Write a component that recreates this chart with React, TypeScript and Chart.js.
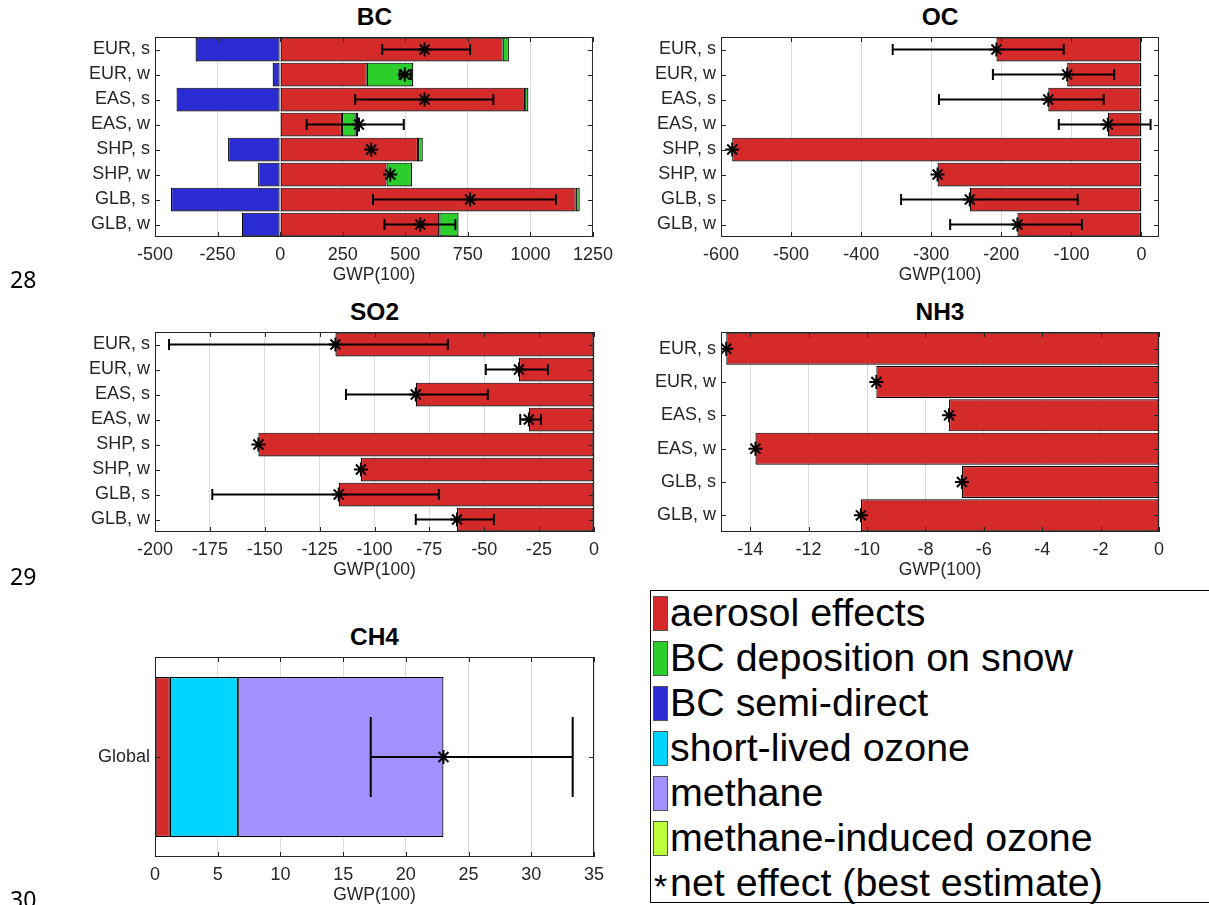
import React, { useEffect, useRef } from 'react';
import { Chart, registerables } from 'chart.js';
Chart.register(...registerables);

// ---------- data ----------
const regionLabels = ['EUR, s', 'EUR, w', 'EAS, s', 'EAS, w', 'SHP, s', 'SHP, w', 'GLB, s', 'GLB, w'];
const nh3Labels = ['EUR, s', 'EUR, w', 'EAS, s', 'EAS, w', 'GLB, s', 'GLB, w'];
const ch4Labels = ['Global'];

const bcTicks = [-500, -250, 0, 250, 500, 750, 1000, 1250];
const ocTicks = [-600, -500, -400, -300, -200, -100, 0];
const so2Ticks = [-200, -175, -150, -125, -100, -75, -50, -25, 0];
const nh3Ticks = [-14, -12, -10, -8, -6, -4, -2, 0];
const ch4Ticks = [0, 5, 10, 15, 20, 25, 30, 35];

const bcAerosol = [889, 346, 979, 247, 551, 425, 1181, 636];
const bcSnow = [25, 186, 13, 55, 19, 102, 16, 77];
const bcSemiDirect = [-338, -30, -414, 10, -208, -88, -436, -153];
const bcNet = [577, 498, 577, 315, 364, 440, 759, 560];
const bcErrLow = [408, 478, 300, 106, null, null, 371, 417];
const bcErrHigh = [759, 522, 852, 494, null, null, 1102, 700];

const ocAerosol = [-207, -106, -133, -48, -584, -291, -245, -177];
const ocNet = [-207, -106, -133, -48, -584, -291, -245, -177];
const ocErrLow = [-355, -212, -289, -118, null, null, -343, -273];
const ocErrHigh = [-111, -39, -54, 13, null, null, -91, -85];

const so2Aerosol = [-117.8, -34.2, -81.2, -29.7, -152.9, -106.2, -116.3, -62.4];
const so2Net = [-117.8, -34.2, -81.2, -29.7, -152.9, -106.2, -116.3, -62.4];
const so2ErrLow = [-193.6, -49.3, -113, -33.6, null, null, -173.9, -81.2];
const so2ErrHigh = [-66.6, -21, -48.4, -24.2, null, null, -70.7, -45.6];

const nh3Aerosol = [-14.82, -9.68, -7.19, -13.82, -6.75, -10.21];
const nh3Net = [-14.82, -9.68, -7.19, -13.82, -6.75, -10.21];

const ch4Aerosol = [1.18];
const ch4ShortOzone = [5.45];
const ch4Methane = [16.37];
const ch4Net = [23.0];
const ch4ErrLow = [17.2];
const ch4ErrHigh = [33.3];

const legendItems = [
  { label: 'aerosol effects', color: '#D52A2A' },
  { label: 'BC deposition on snow', color: '#2BCE2B' },
  { label: 'BC semi-direct', color: '#2B2BD4' },
  { label: 'short-lived ozone', color: '#00D4FF' },
  { label: 'methane', color: '#A091FF' },
  { label: 'methane-induced ozone', color: '#BDFF3C' },
];

const RED = '#D52A2A';
const GREEN = '#2BCE2B';
const BLUE = '#2B2BD4';
const CYAN = '#00D4FF';
const PURPLE = '#A091FF';

const FONT = '"Liberation Sans", Arial, Helvetica, sans-serif';
const AXIS_COLOR = '#262626';

type BarSet = { label: string; data: number[]; color: string };

type PanelProps = {
  left: number;
  top: number;
  width: number;
  height: number;
  yWidth: number;
  padRight: number;
  title: string;
  labels: string[];
  bars: BarSet[];
  net: number[];
  errLow?: (number | null)[];
  errHigh?: (number | null)[];
  ticks: number[];
  min: number;
  max: number;
  barPct: number;
  capR: number;
};

const framePlugin = {
  id: 'matlabFrame',
  afterDraw(chart: any) {
    const { ctx, chartArea: a, scales } = chart;
    ctx.save();
    ctx.strokeStyle = AXIS_COLOR;
    ctx.lineWidth = 1;
    ctx.strokeRect(a.left + 0.5, a.top + 0.5, a.right - a.left - 1, a.bottom - a.top - 1);
    const L = 5;
    ctx.beginPath();
    scales.x.ticks.forEach((t: any) => {
      const px = Math.round(scales.x.getPixelForValue(t.value)) + 0.5;
      ctx.moveTo(px, a.bottom);
      ctx.lineTo(px, a.bottom - L);
      ctx.moveTo(px, a.top);
      ctx.lineTo(px, a.top + L);
    });
    scales.y.ticks.forEach((_t: any, i: number) => {
      const py = Math.round(scales.y.getPixelForTick(i)) + 0.5;
      ctx.moveTo(a.left, py);
      ctx.lineTo(a.left + L, py);
      ctx.moveTo(a.right, py);
      ctx.lineTo(a.right - L, py);
    });
    ctx.stroke();
    ctx.restore();
  },
};

function Panel(p: PanelProps) {
  const ref = useRef<HTMLCanvasElement | null>(null);
  useEffect(() => {
    if (!ref.current) return;
    const datasets: any[] = [];
    // error bars
    if (p.errLow && p.errHigh) {
      p.errLow.forEach((lo, i) => {
        const hi = p.errHigh![i];
        if (lo === null || hi === null) return;
        datasets.push({
          type: 'line',
          indexAxis: 'y',
          xAxisID: 'x',
          yAxisID: 'y',
          stack: 'err' + i,
          order: 0,
          data: [
            { x: lo, y: p.labels[i] },
            { x: hi, y: p.labels[i] },
          ],
          borderColor: '#000',
          borderWidth: 2,
          fill: false,
          pointStyle: 'line',
          pointRotation: 90,
          pointRadius: p.capR,
          pointHoverRadius: p.capR,
          pointBorderWidth: 2,
          pointBorderColor: '#000',
          pointBackgroundColor: '#000',
        });
      });
    }
    // net effect stars
    datasets.push({
      type: 'line',
      indexAxis: 'y',
      xAxisID: 'x',
      yAxisID: 'y',
      stack: 'net',
      order: 0,
      showLine: false,
      data: p.net.map((v, i) => ({ x: v, y: p.labels[i] })),
      pointStyle: 'star',
      pointRadius: 7,
      pointHoverRadius: 7,
      pointBorderWidth: 2,
      pointBorderColor: '#000',
      pointBackgroundColor: '#000',
    });
    p.bars.forEach((b) => {
      datasets.push({
        type: 'bar',
        indexAxis: 'y',
        xAxisID: 'x',
        yAxisID: 'y',
        order: 1,
        label: b.label,
        data: b.data,
        backgroundColor: b.color,
        borderColor: '#000',
        borderWidth: 1.2,
        borderSkipped: false,
        barPercentage: p.barPct,
        categoryPercentage: 1,
      });
    });

    const chart = new Chart(ref.current, {
      type: 'bar',
      data: { labels: p.labels, datasets },
      options: {
        animation: false,
        responsive: false,
        maintainAspectRatio: false,
        indexAxis: 'y',
        layout: { autoPadding: false, padding: { left: 0, right: p.padRight, top: 37, bottom: 0 } },
        plugins: {
          legend: { display: false },
          title: { display: false },
          tooltip: { enabled: false },
        },
        scales: {
          x: {
            type: 'linear',
            min: p.min,
            max: p.max,
            stacked: true,
            afterBuildTicks: (s: any) => {
              s.ticks = p.ticks.map((v) => ({ value: v }));
            },
            afterFit: (s: any) => {
              s.height = 53;
            },
            grid: { color: '#dcdcdc', drawTicks: false, lineWidth: 1 },
            border: { display: false },
            ticks: {
              padding: 7,
              color: AXIS_COLOR,
              font: { family: FONT, size: 18 },
              maxRotation: 0,
              autoSkip: false,
              callback: (v: any) => String(v),
            },
            title: {
              display: true,
              text: 'GWP(100)',
              color: AXIS_COLOR,
              font: { family: FONT, size: 17.5 },
              padding: { top: 0, bottom: 4 },
            },
          },
          y: {
            type: 'category',
            stacked: true,
            afterFit: (s: any) => {
              s.width = p.yWidth;
            },
            grid: { display: false, drawTicks: false },
            border: { display: false },
            ticks: {
              padding: 5,
              color: AXIS_COLOR,
              font: { family: FONT, size: 18 },
              autoSkip: false,
            },
          },
        },
      } as any,
      plugins: [framePlugin],
    } as any);
    return () => chart.destroy();
  }, []);

  const plotLeft = p.left + p.yWidth;
  const plotWidth = p.width - p.yWidth - p.padRight;
  return (
    <>
      <div
        style={{
          position: 'absolute',
          left: plotLeft,
          top: p.top + 5,
          width: plotWidth,
          textAlign: 'center',
          fontFamily: FONT,
          fontWeight: 'bold',
          fontSize: 24.5,
          lineHeight: '24px',
          color: '#000',
        }}
      >
        {p.title}
      </div>
      <canvas
        ref={ref}
        width={p.width}
        height={p.height}
        style={{ position: 'absolute', left: p.left, top: p.top, width: p.width, height: p.height }}
      />
    </>
  );
}

function Legend() {
  const BOX_TOP = 590;
  const rowTop = (i: number) => 590 + 45 * i;
  const textStyle: React.CSSProperties = {
    position: 'absolute',
    left: 19,
    fontFamily: FONT,
    fontSize: 39.4,
    lineHeight: '45px',
    color: '#000',
    whiteSpace: 'nowrap',
  };
  return (
    <div
      style={{
        position: 'absolute',
        left: 650,
        top: BOX_TOP,
        width: 600,
        height: 313,
        border: '1px solid #000',
        boxSizing: 'border-box',
      }}
    >
      {legendItems.map((it, i) => (
        <div key={it.label}>
          <div
            style={{
              position: 'absolute',
              left: 2,
              top: rowTop(i) - BOX_TOP + 5,
              width: 14.5,
              height: 35,
              background: it.color,
              border: '1px solid #555',
              boxSizing: 'border-box',
            }}
          />
          <div style={{ ...textStyle, top: rowTop(i) - BOX_TOP - 1 }}>{it.label}</div>
        </div>
      ))}
      <div
        style={{
          position: 'absolute',
          left: 3,
          top: 278,
          fontFamily: FONT,
          fontSize: 34,
          lineHeight: '34px',
          color: '#000',
        }}
      >
        *
      </div>
      <div style={{ ...textStyle, top: rowTop(6) - BOX_TOP - 1 }}>net effect (best estimate)</div>
    </div>
  );
}

const lineNumberStyle: React.CSSProperties = {
  position: 'absolute',
  left: 10,
  fontFamily: '"Noto Sans", "Open Sans", sans-serif',
  fontSize: 23,
  lineHeight: '24px',
  color: '#000',
};

export default function App() {
  return (
    <div
      style={{
        position: 'absolute',
        left: 0,
        top: 0,
        width: 1209,
        height: 905,
        overflow: 'hidden',
        background: '#fff',
      }}
    >
      <Panel
        left={0} top={0} width={620} height={290} yWidth={155} padRight={26}
        title="BC" labels={regionLabels}
        bars={[
          { label: 'aerosol effects', data: bcAerosol, color: RED },
          { label: 'BC deposition on snow', data: bcSnow, color: GREEN },
          { label: 'BC semi-direct', data: bcSemiDirect, color: BLUE },
        ]}
        net={bcNet} errLow={bcErrLow} errHigh={bcErrHigh}
        ticks={bcTicks} min={-500} max={1250} barPct={0.95} capR={5.5}
      />
      <Panel
        left={620} top={0} width={589} height={290} yWidth={101} padRight={50}
        title="OC" labels={regionLabels}
        bars={[{ label: 'aerosol effects', data: ocAerosol, color: RED }]}
        net={ocNet} errLow={ocErrLow} errHigh={ocErrHigh}
        ticks={ocTicks} min={-600} max={25} barPct={0.95} capR={5.5}
      />
      <Panel
        left={0} top={295} width={620} height={290} yWidth={155} padRight={26}
        title="SO2" labels={regionLabels}
        bars={[{ label: 'aerosol effects', data: so2Aerosol, color: RED }]}
        net={so2Net} errLow={so2ErrLow} errHigh={so2ErrHigh}
        ticks={so2Ticks} min={-200} max={0} barPct={0.95} capR={5.5}
      />
      <Panel
        left={620} top={295} width={589} height={290} yWidth={101} padRight={50}
        title="NH3" labels={nh3Labels}
        bars={[{ label: 'aerosol effects', data: nh3Aerosol, color: RED }]}
        net={nh3Net}
        ticks={nh3Ticks} min={-15} max={0} barPct={0.96} capR={5.5}
      />
      <Panel
        left={0} top={620} width={620} height={290} yWidth={155} padRight={26}
        title="CH4" labels={ch4Labels}
        bars={[
          { label: 'aerosol effects', data: ch4Aerosol, color: RED },
          { label: 'short-lived ozone', data: ch4ShortOzone, color: CYAN },
          { label: 'methane', data: ch4Methane, color: PURPLE },
        ]}
        net={ch4Net} errLow={ch4ErrLow} errHigh={ch4ErrHigh}
        ticks={ch4Ticks} min={0} max={35} barPct={0.8} capR={40}
      />
      <Legend />
      <div style={{ ...lineNumberStyle, top: 267 }}>28</div>
      <div style={{ ...lineNumberStyle, top: 564 }}>29</div>
      <div style={{ ...lineNumberStyle, top: 887 }}>30</div>
    </div>
  );
}
